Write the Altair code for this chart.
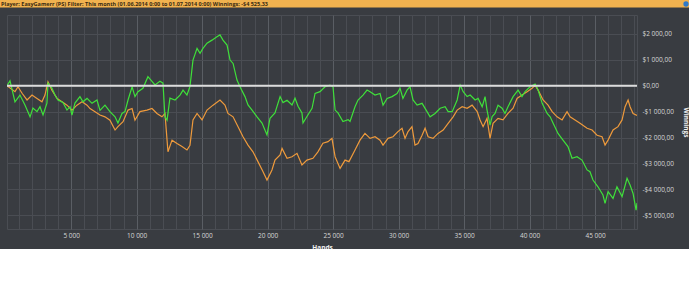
import altair as alt
import pandas as pd

# ---- data ----
green_hands = [100, 330, 710, 1090, 1470, 1860, 2080, 2390, 2620, 2850, 3150, 3230, 3530, 3760, 3990, 4370,
               4680, 4910, 5060, 5290, 5670, 5900, 6210, 6590, 6970, 7200, 7580, 7960, 8350, 8570, 8880, 9110,
               9340, 9650, 9870, 10100, 10480, 10860, 11170, 11400, 11780, 12010, 12160, 12320, 12540, 12930,
               13310, 13540, 13840, 14070, 14300, 14610, 14840, 15060, 15370, 15750, 16130, 16360, 16590, 16900,
               17130, 17360, 17660, 17890, 18270, 18500, 18810, 19190, 19570, 19950, 20180, 20560, 20950, 21170,
               21480, 21860, 22090, 22320, 22620, 22700, 23000, 23390, 23620, 24000, 24380, 24760, 24990, 25150,
               25370, 25750, 26140, 26290, 26670, 26900, 27280, 27590, 27820, 28200, 28580, 28810, 29120, 29500,
               29880, 30110, 30330, 30640, 30870, 31100, 31410, 31790, 32170, 32400, 32780, 33170, 33550, 33780,
               34090, 34470, 34700, 34930, 35230, 35460, 35840, 36070, 36380, 36600, 36750, 36980, 37140, 37360,
               37590, 37900, 38120, 38350, 38740, 39120, 39420, 39650, 40040, 40420, 40650, 40960, 41340, 41570,
               41790, 42170, 42550, 42930, 43240, 43620, 44000, 44390, 44610, 44840, 45220, 45600, 45760, 45990,
               46370, 46670, 47060, 47440, 47670, 47900, 48130, 48200]
green_values = [0, 190, -620, -360, -745, -1200, -860, -1000, -810, -1130, -670, 100, -90, -360, -550, -650,
                -940, -810, -1130, -670, -420, -620, -490, -680, -550, -950, -750, -1000, -1200, -1440, -1070, -1000,
                -550, -40, -420, -230, -100, 350, 170, 30, 170, 100, -1200, -1330, -480, -550,
                -360, -170, -360, -30, 990, 1440, 1250, 1440, 1640, 1760, 1890, 1960, 1760, 1570,
                990, 860, 220, -40, -420, -740, -940, -1200, -1440, -1900, -1260, -1050, -420, -650,
                -560, -745, -480, -790, -1050, -1440, -1190, -870, -300, -230, -40, 20, -40, -940,
                -1050, -1380, -1310, -1380, -810, -550, -360, -165, -230, -360, -300, -750, -490, -420,
                -300, -100, -490, -170, -40, -550, -750, -680, -1000, -1200, -1070, -870, -810, -1000,
                -1000, -550, 25, -230, -420, -360, -550, -490, -810, -420, -940, -1520, -1190, -1070,
                -750, -870, -1070, -810, -420, -170, -420, -230, -40, 65, -170, -680, -1070, -1200,
                -1440, -1840, -2100, -2350, -2800, -2740, -2870, -3250, -3320, -3640, -3900, -4220, -4540, -4090,
                -4350, -3900, -4280, -3575, -3830, -4160, -4800, -4525]

orange_hands = [100, 710, 940, 1250, 1630, 2010, 2390, 2770, 3000, 3230, 3530, 3920, 4300, 4680, 5060, 5440,
                5830, 6210, 6440, 6820, 7200, 7580, 7960, 8350, 8570, 8960, 9340, 9650, 9870, 10250, 10790, 11170,
                11550, 11930, 12160, 12320, 12390, 12700, 13080, 13460, 13840, 14070, 14300, 14610, 14990, 15370,
                15830, 16360, 16740, 16970, 17360, 17740, 18120, 18500, 18880, 19260, 19650, 19950, 20330, 20560,
                20950, 21100, 21480, 21860, 22240, 22620, 23000, 23460, 23840, 24220, 24610, 24910, 25150, 25530,
                25910, 26210, 26670, 27050, 27430, 27820, 28200, 28580, 28810, 29190, 29570, 29950, 30260, 30490,
                30720, 31020, 31250, 31480, 31790, 32020, 32250, 32630, 33010, 33400, 33780, 34160, 34470, 34850,
                35230, 35610, 36000, 36220, 36450, 36750, 36980, 37210, 37590, 37970, 38350, 38740, 39040, 39420,
                39810, 40190, 40420, 40650, 41030, 41410, 41720, 42100, 42480, 42860, 43090, 43470, 43850, 44390,
                44770, 45150, 45530, 45760, 45990, 46370, 46750, 47060, 47290, 47520, 47670, 47900, 48200]
orange_values = [0, -230, -40, -290, -550, -360, -490, -620, -360, 150, -170, -490, -620, -750, -940, -750,
                 -620, -750, -880, -1000, -1130, -1200, -1330, -1710, -1580, -1390, -940, -880, -1330, -1000, -940, -880,
                 -1070, -1200, -1070, -2100, -2550, -2100, -2230, -2350, -2480, -2300, -1320, -1070, -1320, -940,
                 -750, -550, -750, -1070, -1200, -1580, -1970, -2290, -2550, -2930, -3320, -3640, -3250, -2870,
                 -2670, -2420, -2800, -2740, -2610, -3060, -2870, -2800, -2550, -2220, -2160, -2030, -2740, -3190,
                 -2870, -2930, -2480, -2100, -1840, -2030, -1970, -2100, -2290, -2030, -1970, -1770, -1640, -2030,
                 -1770, -1580, -2290, -2230, -1910, -1640, -1970, -2030, -1840, -1710, -1450, -1200, -940, -810,
                 -870, -750, -1000, -1320, -1580, -1260, -2030, -1450, -1260, -1320, -1070, -870, -490, -360,
                 -230, -100, 25, -170, -550, -750, -1000, -1200, -1320, -1000, -1200, -1320, -1450, -1640,
                 -1710, -1910, -1970, -2290, -2100, -1710, -1580, -1320, -810, -550, -810, -1070, -1150]

x_ticks = list(range(1000, 49000, 1000))
y_ticks = [-5000, -4000, -3000, -2000, -1000, 0, 1000, 2000]
series_names = ["Winnings", "Showdown"]
series_colors = ["#3fe03a", "#ee9a3c"]
header_text = "Player:  EasyGamerr (PS)  Filter:  This month (01.06.2014 0:00 to 01.07.2014 0:00)  Winnings:  -$4 525,33"

rows = []
for h, v in zip(orange_hands, orange_values):
    rows.append({"series": "Showdown", "hands": h, "value": v, "order": 0})
for h, v in zip(green_hands, green_values):
    rows.append({"series": "Winnings", "hands": h, "value": v, "order": 1})
df = pd.DataFrame(rows)

BG = "#393c41"
GRID = "#4a4d53"
GRID_MAJOR = "#5a5e64"
LABEL = "#d6d6d6"

x_scale = alt.Scale(domain=[100, 48200], nice=False, zero=False)
y_scale = alt.Scale(domain=[-5530, 2730], nice=False, zero=False)

x_axis = alt.Axis(
    values=x_ticks, orient="bottom", ticks=False, domain=False, grid=True, labelOverlap=False,
    gridColor={"condition": {"test": "datum.value % 5000 === 0", "value": GRID_MAJOR}, "value": GRID},
    gridWidth=1,
    labelExpr="datum.value % 5000 === 0 ? replace(format(datum.value, ','), ',', ' ') : ''",
    labelColor=LABEL, labelFontSize=6.5, labelFont="Open Sans", labelPadding=3,
    title="Hands", titleColor="#f0f0f0", titleFontSize=6.5, titleFont="Open Sans",
    titleFontWeight="bold", titlePadding=6,
)
y_axis = alt.Axis(
    values=y_ticks, orient="right", ticks=False, domain=False, grid=True, labelOverlap=False,
    gridColor=GRID, gridWidth=1,
    labelExpr="(datum.value < 0 ? '-' : '') + '$' + replace(replace(format(abs(datum.value), ',.2f'), ',', ' '), '.', ',')",
    labelColor=LABEL, labelFontSize=6.5, labelFont="Open Sans", labelPadding=5,
    title="Winnings", titleColor="#f0f0f0", titleFontSize=6.5, titleFont="Open Sans",
    titleFontWeight="bold", titlePadding=9,
)

one = alt.Data(values=[{"k": 1}])

lines = alt.Chart(df).mark_line(strokeWidth=1.2, clip=True).encode(
    x=alt.X("hands:Q", scale=x_scale, axis=x_axis),
    y=alt.Y("value:Q", scale=y_scale, axis=y_axis),
    color=alt.Color("series:N", scale=alt.Scale(domain=series_names, range=series_colors), legend=None),
    order=alt.Order("order:Q"),
    detail="series:N",
)

zero = alt.Chart(alt.Data(values=[{"v": 0}])).mark_rule(color="#dcdcdc", strokeWidth=2).encode(
    y=alt.Y("v:Q", scale=y_scale, axis=y_axis),
    x=alt.value(0), x2=alt.value(630),
)

white_right = alt.Chart(one).mark_rect(color="white").encode(
    x=alt.value(682), x2=alt.value(700), y=alt.value(-15), y2=alt.value(280))
white_bottom = alt.Chart(one).mark_rect(color="white").encode(
    x=alt.value(-7), x2=alt.value(700), y=alt.value(234), y2=alt.value(280))
header = alt.Chart(one).mark_rect(color="#f1b24f").encode(
    x=alt.value(-7), x2=alt.value(682), y=alt.value(-15), y2=alt.value(-7.5))
header_lbl = alt.Chart(one).mark_text(
    text=header_text, align="left", baseline="middle", fontSize=5.5, font="Open Sans",
    fontWeight="bold", color="#3a2c12").encode(x=alt.value(-6), y=alt.value(-11))
icon = alt.Chart(one).mark_point(filled=True, shape="circle", size=28, color="#2f79c8", opacity=1).encode(
    x=alt.value(679), y=alt.value(-11))

chart = alt.layer(lines, zero, white_right, white_bottom, header, header_lbl, icon).properties(
    width=630, height=214,
    padding={"left": 7, "top": 15, "right": 63, "bottom": 65},
    autosize=alt.AutoSizeParams(type="none"),
    background=BG,
).configure_view(stroke=GRID, strokeWidth=1)

chart.save("out.html", embed_options={"renderer": "svg", "actions": False})
